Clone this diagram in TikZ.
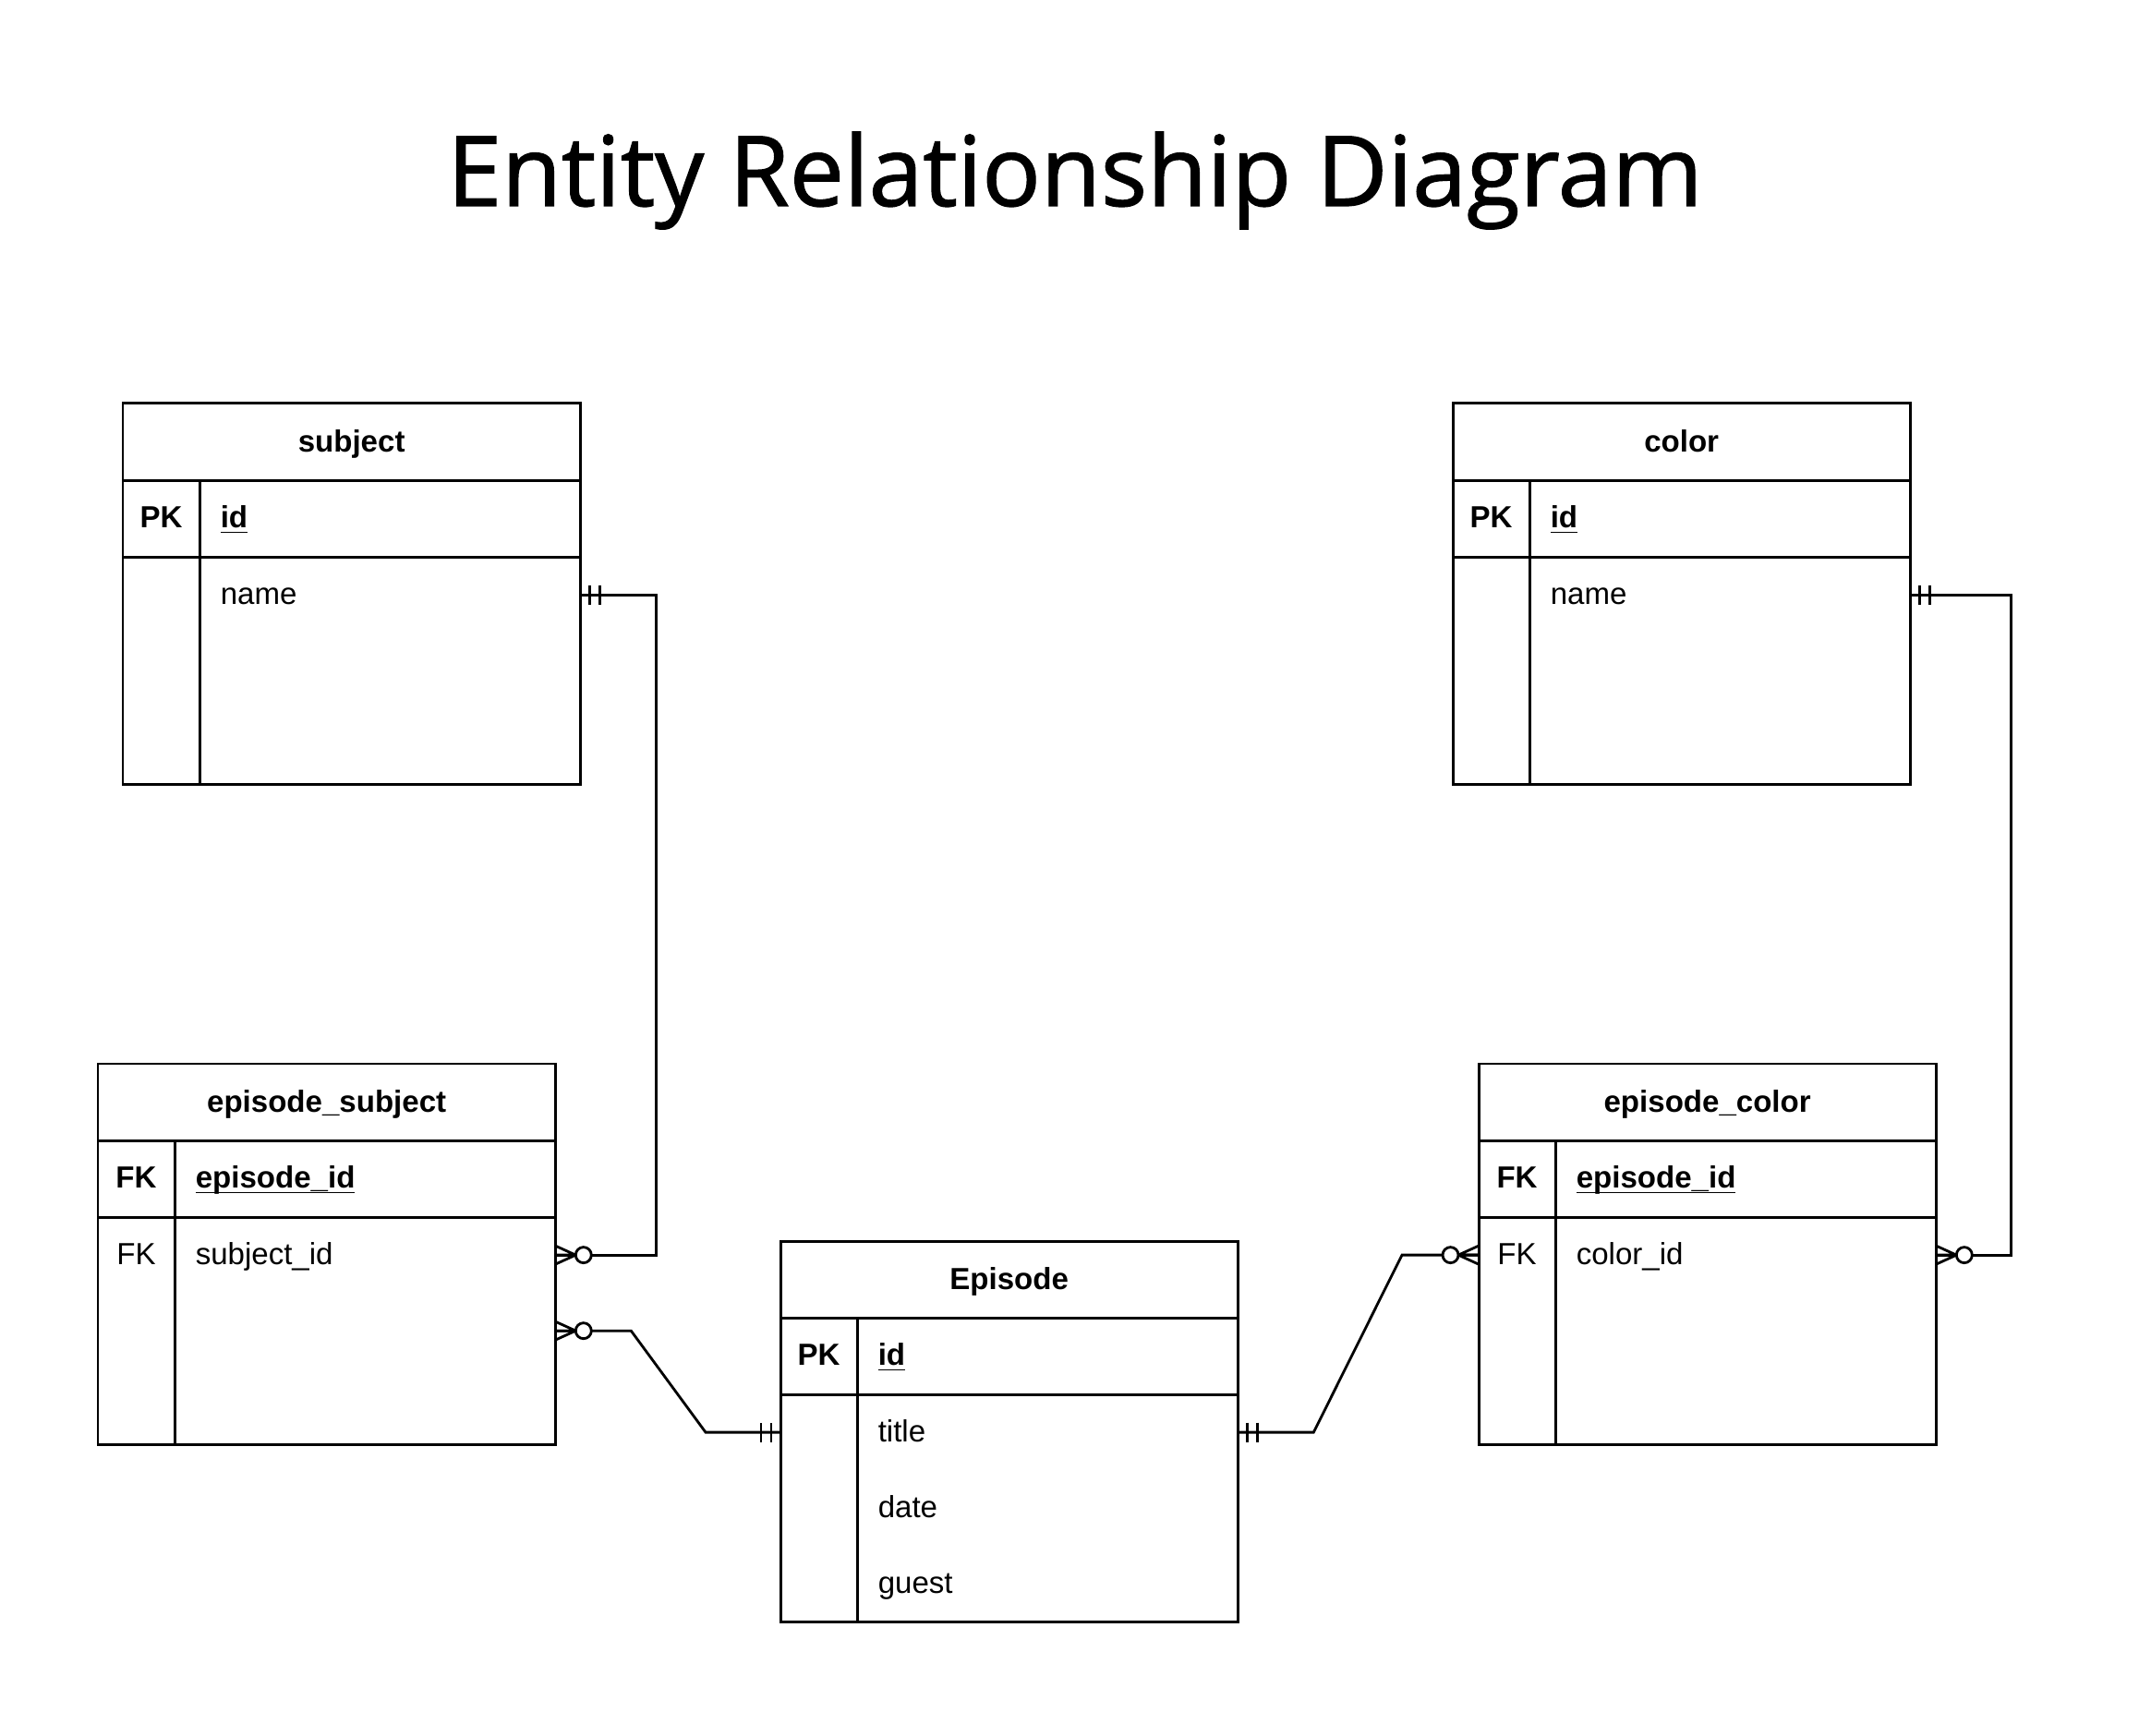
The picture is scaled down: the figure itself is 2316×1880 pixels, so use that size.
\documentclass[tikz,border=0pt]{standalone}
\usepackage{fontspec}
\setmainfont{Liberation Sans}
\newfontfamily\titlefont{Open Sans}[FakeBold=1.2]
\usetikzlibrary{calc}

\newcommand{\tabfont}{\fontsize{9.4pt}{11pt}\selectfont}
\newcommand{\keyul}[1]{\underline{\smash{#1}}}

\tikzset{
  tbl/.style={draw, line width=0.85pt, minimum width=4.95cm, inner sep=0pt, outer sep=0pt, anchor=north west},
  head/.style={tbl, minimum height=0.83cm, font=\tabfont\bfseries, text height=0.6em, text depth=0pt},
  keyrow/.style={tbl, minimum height=0.83cm},
  body/.style={tbl, minimum height=2.46cm},
  txt/.style={inner sep=0pt, text height=0.58em, text depth=0pt, font=\tabfont},
  keytxt/.style={txt, xshift=0.415cm},
  fieldtxt/.style={txt, anchor=west, xshift=1.05cm},
  bold/.style={font=\tabfont\bfseries},
  divider/.style={line width=0.85pt},
  conn/.style={draw, line width=0.8pt},
  mandone/.pic={\draw[line width=0.8pt] (10,-10.5) -- (10,10.5) (21,-10.5) -- (21,10.5);},
  zeromany/.pic={\draw[line width=0.8pt] (0,-10) -- (22,0) -- (0,10) (0,0) -- (22,0);
    \draw[line width=0.8pt, fill=white] (30.5,0) circle[radius=0.085cm];}
}

\begin{document}
\begin{tikzpicture}[x=0.01cm, y=-0.01cm]
  \useasboundingbox (0,0) rectangle (2316,1880);

  \node[font=\titlefont\fontsize{30pt}{35pt}\selectfont, anchor=base] (title) at (1164,223) {Entity Relationship Diagram};

  % subject
  \node[head] (subject) at (133,437) {subject};
  \node[keyrow] (subject-pk) at (subject.south west) {};
  \node[body] (subject-body) at (subject-pk.south west) {};
  \draw[divider] ([xshift=0.83cm]subject-pk.north west) -- ([xshift=0.83cm]subject-body.south west);
  \node[keytxt, bold] at (subject-pk.west) {PK};
  \node[fieldtxt, bold] at (subject-pk.west) {\keyul{id}};
  \node[fieldtxt] (subject-name) at ([yshift=-0.41cm]subject-body.north west) {name};

  % color
  \node[head] (color) at (1573,437) {color};
  \node[keyrow] (color-pk) at (color.south west) {};
  \node[body] (color-body) at (color-pk.south west) {};
  \draw[divider] ([xshift=0.83cm]color-pk.north west) -- ([xshift=0.83cm]color-body.south west);
  \node[keytxt, bold] at (color-pk.west) {PK};
  \node[fieldtxt, bold] at (color-pk.west) {\keyul{id}};
  \node[fieldtxt] (color-name) at ([yshift=-0.41cm]color-body.north west) {name};

  % episode_subject
  \node[head] (esubj) at (106,1152) {episode\_subject};
  \node[keyrow] (esubj-fk) at (esubj.south west) {};
  \node[body] (esubj-body) at (esubj-fk.south west) {};
  \draw[divider] ([xshift=0.83cm]esubj-fk.north west) -- ([xshift=0.83cm]esubj-body.south west);
  \node[keytxt, bold] at (esubj-fk.west) {FK};
  \node[fieldtxt, bold] at (esubj-fk.west) {\keyul{episode\_id}};
  \node[keytxt] at ([yshift=-0.41cm]esubj-body.north west) {FK};
  \node[fieldtxt] (esubj-sid) at ([yshift=-0.41cm]esubj-body.north west) {subject\_id};
  \coordinate (esubj-row2) at ([yshift=-1.23cm]esubj-body.north east);

  % episode_color
  \node[head] (ecolor) at (1601,1152) {episode\_color};
  \node[keyrow] (ecolor-fk) at (ecolor.south west) {};
  \node[body] (ecolor-body) at (ecolor-fk.south west) {};
  \draw[divider] ([xshift=0.83cm]ecolor-fk.north west) -- ([xshift=0.83cm]ecolor-body.south west);
  \node[keytxt, bold] at (ecolor-fk.west) {FK};
  \node[fieldtxt, bold] at (ecolor-fk.west) {\keyul{episode\_id}};
  \node[keytxt] at ([yshift=-0.41cm]ecolor-body.north west) {FK};
  \node[fieldtxt] (ecolor-cid) at ([yshift=-0.41cm]ecolor-body.north west) {color\_id};

  % Episode
  \node[head] (episode) at (845,1344) {Episode};
  \node[keyrow] (episode-pk) at (episode.south west) {};
  \node[body] (episode-body) at (episode-pk.south west) {};
  \draw[divider] ([xshift=0.83cm]episode-pk.north west) -- ([xshift=0.83cm]episode-body.south west);
  \node[keytxt, bold] at (episode-pk.west) {PK};
  \node[fieldtxt, bold] at (episode-pk.west) {\keyul{id}};
  \node[fieldtxt] (episode-title) at ([yshift=-0.41cm]episode-body.north west) {title};
  \node[fieldtxt] (episode-date) at ([yshift=-1.23cm]episode-body.north west) {date};
  \node[fieldtxt] (episode-guest) at ([yshift=-2.05cm]episode-body.north west) {guest};

  % connectors
  \path[conn] (subject-body.east |- subject-name) -- ++(82,0) |- (esubj-body.east |- esubj-sid);
  \path[conn] (color-body.east |- color-name) -- ++(109,0) |- (ecolor-body.east |- ecolor-cid);
  \path[conn] (esubj-row2) -- ++(82,0) -- ($(episode-body.west |- episode-title)+(-81,0)$) -- (episode-body.west |- episode-title);
  \path[conn] (episode-body.east |- episode-title) -- ++(82,0) -- ($(ecolor-body.west |- ecolor-cid)+(-83,0)$) -- (ecolor-body.west |- ecolor-cid);

  % end marks
  \pic at (subject-body.east |- subject-name) {mandone};
  \pic at (color-body.east |- color-name) {mandone};
  \pic at (esubj-body.east |- esubj-sid) {zeromany};
  \pic at (ecolor-body.east |- ecolor-cid) {zeromany};
  \pic at (esubj-row2) {zeromany};
  \pic[rotate=180] at (episode-body.west |- episode-title) {mandone};
  \pic at (episode-body.east |- episode-title) {mandone};
  \pic[rotate=180] at (ecolor-body.west |- ecolor-cid) {zeromany};
\end{tikzpicture}
\end{document}
